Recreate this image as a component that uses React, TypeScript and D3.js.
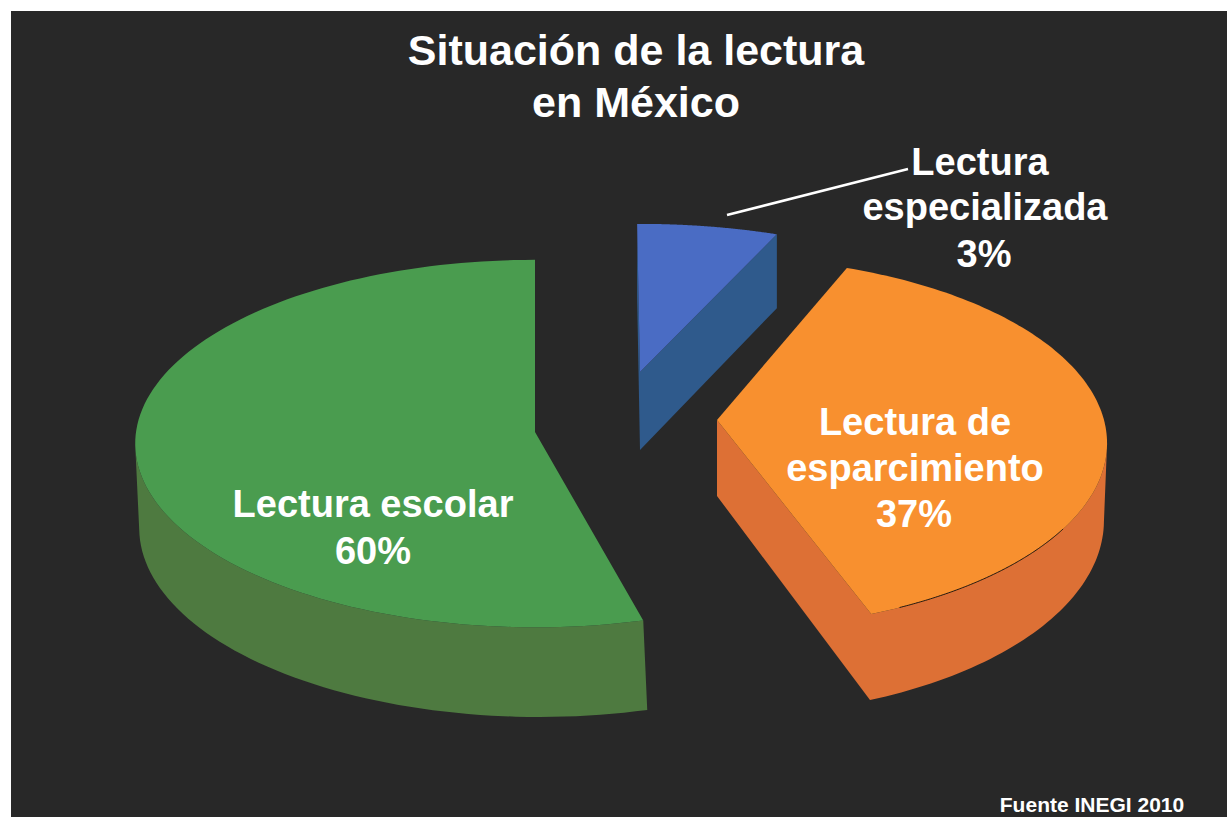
import React from "react";
import * as d3 from "d3";

const W = 1227;
const H = 817;

// Printed figures and the share of the disc each slice is actually drawn with
const sliceNames = ["Lectura especializada", "Lectura de esparcimiento", "Lectura escolar"];
const printedPercent = [3, 37, 60];
const drawnShare = [6.3, 39.6, 54.1];
const sliceOrder = [0, 1, 2];

const topColors = ["#4a6cc4", "#f8902f", "#4a9c4f"];
const wallColors = ["#2f5a8c", "#dd7035", "#4e7a40"];

// Exploded placement of each slice on the page
const apexX = [640, 717, 535];
const apexY = [372, 420, 432];
const radiusX = [382, 387, 399];
const radiusY = [157, 183, 183];
const tilt = [0.06, 0.125, 0.063];
const depth = [78, 76, 84];
const rotation = [-0.008, -0.012, 0];
const endTrim = [0, 0.09, 0];
const baseScaleX = [1, 0.992, 1];
const baseShiftX = [0, 0, 4];

const pieGen = d3.pie<number>().sort(null).value((d) => d);
const arcs = pieGen(drawnShare);

type Pt = [number, number];

function project(i: number, theta: number, r: number, extrude: number): Pt {
  const X = Math.sin(theta) * r;
  const Y = -Math.cos(theta) * r;
  const w = 1 - tilt[i] * Y;
  const onBase = extrude > 0;
  const sx = onBase ? baseScaleX[i] : 1;
  const shift = onBase ? baseShiftX[i] : 0;
  return [
    apexX[i] + shift + (radiusX[i] * sx * X) / w,
    apexY[i] + (radiusY[i] * Y + extrude) / w,
  ];
}

function arcPoints(i: number, extrude: number, from = 0, to = 1): Pt[] {
  const a0 = arcs[i].startAngle + rotation[i];
  const a1 = arcs[i].endAngle + rotation[i] - endTrim[i];
  return d3.range(0, 121).map((k) => {
    const t = from + ((to - from) * k) / 120;
    return project(i, a0 + (a1 - a0) * t, 1, extrude);
  });
}

function outline(i: number, extrude: number): Pt[] {
  return [project(i, 0, 0, extrude), ...arcPoints(i, extrude)];
}

const lineGen = d3.line<Pt>().curve(d3.curveLinearClosed);
const openLine = d3.line<Pt>();

function wallPath(i: number): string {
  const top = outline(i, 0);
  const low = outline(i, depth[i]);
  const n = top.length;
  // Outline runs clockwise: only edges heading left face the viewer
  const faces = (k: number) => top[(k + 1) % n][0] - top[k][0] < 0;
  const first = d3.range(n).find((k) => faces(k) && !faces((k + n - 1) % n)) ?? 0;
  const run: number[] = [first];
  let k = first;
  while (faces(k) && run.length <= n) {
    k = (k + 1) % n;
    run.push(k);
  }
  const upper = run.map((j) => top[j]);
  const lower = run.map((j) => low[j]).reverse();
  return lineGen([...upper, ...lower]) ?? "";
}

const titleLines = ["Situación de la lectura", "en México"];
const source = "Fuente INEGI 2010";
const font = "'Liberation Sans', Arial, sans-serif";

export default function App() {
  return (
    <svg
      width={W}
      height={H}
      style={{ position: "fixed", left: 0, top: 0, background: "#ffffff" }}
    >
      <rect x={11} y={11} width={W - 11} height={H - 11} fill="#282828" />

      {sliceOrder.map((i) => (
        <g key={sliceNames[i]}>
          <path d={wallPath(i)} fill={wallColors[i]} />
          <path d={lineGen(outline(i, 0)) ?? ""} fill={topColors[i]} />
        </g>
      ))}

      <path d={openLine(arcPoints(1, 0, 0.74, 0.97)) ?? ""} fill="none" stroke="#2a1c10" strokeWidth={1} />

      <line x1={727} y1={215} x2={908} y2={169} stroke="#ffffff" strokeWidth={2.5} />

      <g fontFamily={font} fontWeight="bold" fill="#ffffff" textAnchor="middle">
        <text x={636} y={65} fontSize={43}>{titleLines[0]}</text>
        <text x={636} y={117} fontSize={43}>{titleLines[1]}</text>

        <text x={980} y={175} fontSize={38}>Lectura</text>
        <text x={985} y={220} fontSize={38}>especializada</text>
        <text x={984} y={267} fontSize={38}>{printedPercent[0]}%</text>

        <text x={915} y={435} fontSize={38}>Lectura de</text>
        <text x={915} y={481} fontSize={38}>esparcimiento</text>
        <text x={914} y={527} fontSize={38}>{printedPercent[1]}%</text>

        <text x={373} y={517} fontSize={38}>Lectura escolar</text>
        <text x={373} y={564} fontSize={38}>{printedPercent[2]}%</text>

        <text x={1092} y={812} fontSize={21}>{source}</text>
      </g>
    </svg>
  );
}
